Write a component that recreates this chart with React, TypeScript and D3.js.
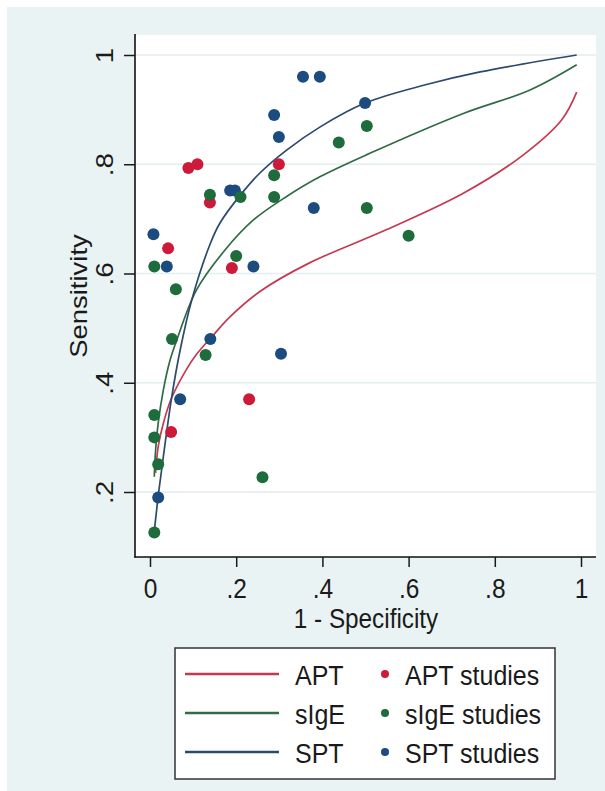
import React, { useEffect, useRef } from "react";
import { select, scaleLinear, axisLeft, axisBottom, line, curveCatmullRom } from "d3";

const W = 605;
const H = 791;
const FONT = "'Liberation Sans', Arial, sans-serif";
const STRETCH = 1.13; // original picture is stretched vertically

// axis ticks
const xTicks = [0, 0.2, 0.4, 0.6, 0.8, 1];
const yTicks = [0.2, 0.4, 0.6, 0.8, 1];

// fitted SROC curves: [1 - specificity, sensitivity]
const aptCurve = [
  [0.013, 0.235], [0.019, 0.283], [0.031, 0.326], [0.05, 0.372], [0.085, 0.425],
  [0.108, 0.452], [0.15, 0.49], [0.186, 0.521], [0.255, 0.567], [0.369, 0.619],
  [0.548, 0.68], [0.727, 0.747], [0.861, 0.814], [0.955, 0.881], [0.99, 0.932],
];
const sigeCurve = [
  [0.01, 0.228], [0.012, 0.265], [0.019, 0.326], [0.031, 0.387], [0.046, 0.44],
  [0.062, 0.478], [0.108, 0.57], [0.174, 0.643], [0.24, 0.698], [0.317, 0.741],
  [0.394, 0.777], [0.51, 0.82], [0.727, 0.893], [0.882, 0.936], [0.99, 0.982],
];
const sptCurve = [
  [0.01, 0.128], [0.019, 0.192], [0.031, 0.265], [0.05, 0.372], [0.07, 0.46],
  [0.097, 0.552], [0.14, 0.655], [0.162, 0.692], [0.209, 0.743], [0.255, 0.784],
  [0.317, 0.826], [0.394, 0.868], [0.499, 0.912], [0.637, 0.945], [0.766, 0.969],
  [0.99, 1.0],
];

// individual studies
const aptStudies = [
  [0.089, 0.793], [0.11, 0.8], [0.299, 0.8], [0.139, 0.73], [0.042, 0.646],
  [0.19, 0.61], [0.23, 0.37], [0.049, 0.31],
];
const sigeStudies = [
  [0.503, 0.87], [0.438, 0.84], [0.288, 0.78], [0.21, 0.74], [0.139, 0.744],
  [0.288, 0.74], [0.503, 0.72], [0.6, 0.669], [0.2, 0.632], [0.01, 0.613],
  [0.06, 0.571], [0.051, 0.48], [0.129, 0.451], [0.01, 0.341], [0.01, 0.3],
  [0.019, 0.251], [0.261, 0.227], [0.01, 0.126],
];
const sptStudies = [
  [0.355, 0.96], [0.394, 0.96], [0.499, 0.912], [0.288, 0.89], [0.299, 0.85],
  [0.186, 0.752], [0.197, 0.752], [0.38, 0.72], [0.008, 0.672], [0.039, 0.613],
  [0.24, 0.613], [0.14, 0.48], [0.304, 0.453], [0.07, 0.37], [0.019, 0.19],
];

const seriesNames = ["APT", "sIgE", "SPT"];
const lineColors = ["#c43a52", "#2f6b45", "#2b4a6d"];
const dotColors = ["#cd1a3a", "#1e6b3b", "#1b4b7f"];

const fmt = (d: number) => (d === 0 ? "0" : d === 1 ? "1" : String(d).replace("0.", "."));

const App = () => {
  const svgRef = useRef<SVGSVGElement>(null);

  useEffect(() => {
    const svg = select(svgRef.current);
    const x = scaleLinear().domain([0, 1]).range([150, 581]);
    const y = scaleLinear().domain([0, 1]).range([601.25, 55]);

    // gridlines
    svg
      .select(".grid")
      .selectAll("line")
      .data(yTicks)
      .join("line")
      .attr("x1", 135)
      .attr("x2", 596)
      .attr("y1", (d) => y(d))
      .attr("y2", (d) => y(d))
      .attr("stroke", "#e4edef")
      .attr("stroke-width", 1.5);

    // curves
    const curves = [aptCurve, sigeCurve, sptCurve];
    const gen = line<number[]>()
      .x((d) => x(d[0]))
      .y((d) => y(d[1]))
      .curve(curveCatmullRom.alpha(0.5));
    svg
      .select(".curves")
      .selectAll("path")
      .data(curves)
      .join("path")
      .attr("d", (d) => gen(d))
      .attr("fill", "none")
      .attr("stroke", (d, i) => lineColors[i])
      .attr("stroke-width", 1.7);

    // study points: red, blue, then green on top
    const layers = [
      { pts: aptStudies, color: dotColors[0] },
      { pts: sptStudies, color: dotColors[2] },
      { pts: sigeStudies, color: dotColors[1] },
    ];
    svg
      .select(".dots")
      .selectAll("g")
      .data(layers)
      .join("g")
      .attr("fill", (d) => d.color)
      .selectAll("circle")
      .data((d) => d.pts)
      .join("circle")
      .attr("cx", (d) => x(d[0]))
      .attr("cy", (d) => y(d[1]))
      .attr("r", 6);

    // axes
    const yAxis = axisLeft(y).tickValues(yTicks).tickSize(11).tickSizeOuter(0).tickFormat(fmt as any);
    const yg = svg.select(".y-axis").attr("transform", "translate(135,0)").call(yAxis as any);
    yg.select(".domain").remove();
    yg.selectAll(".tick line").attr("stroke-width", 1.5);
    yg.selectAll(".tick text")
      .attr("x", 0)
      .attr("dy", null)
      .attr("y", 0)
      .attr("text-anchor", "middle")
      .attr("font-size", 24.5)
      .attr("font-family", FONT)
      .attr("transform", `translate(-22,0) scale(1,${STRETCH}) rotate(-90)`);

    const xAxis = axisBottom(x).tickValues(xTicks).tickSize(10).tickSizeOuter(0).tickFormat(fmt as any);
    const xg = svg.select(".x-axis").attr("transform", "translate(0,557)").call(xAxis as any);
    xg.select(".domain").remove();
    xg.selectAll(".tick line").attr("stroke-width", 1.5);
    xg.selectAll(".tick text")
      .attr("y", 0)
      .attr("dy", null)
      .attr("font-size", 24.5)
      .attr("font-family", FONT)
      .attr("transform", `translate(0,41) scale(1,${STRETCH})`);
  }, []);

  const rowY = [674, 713, 752];

  return (
    <svg
      ref={svgRef}
      width={W}
      height={H}
      style={{ position: "absolute", left: 0, top: 0, color: "#1a1a1a" }}
      fontFamily={FONT}
    >
      <rect x={0} y={0} width={W} height={H} fill="#ffffff" />
      <rect x={7} y={7} width={W - 7} height={H - 7} fill="#eaf3f3" />
      <rect x={135} y={35} width={461} height={522} fill="#ffffff" />
      <g className="grid" />
      <g className="curves" />
      <g className="dots" />
      <line x1={135} x2={135} y1={34} y2={557.5} stroke="#111" strokeWidth={1.6} />
      <line x1={134.2} x2={596} y1={557} y2={557} stroke="#111" strokeWidth={1.6} />
      <g className="y-axis" />
      <g className="x-axis" />
      <text
        transform={`translate(86.5,296) scale(1,${STRETCH}) rotate(-90)`}
        textAnchor="middle"
        fontSize={24.3}
        fill="#1a1a1a"
      >
        Sensitivity
      </text>
      <text
        transform={`translate(366,628) scale(1,${STRETCH})`}
        textAnchor="middle"
        fontSize={24.3}
        fill="#1a1a1a"
      >
        1 - Specificity
      </text>
      <g className="legend">
        <rect x={175} y={648} width={380} height={131} fill="#ffffff" stroke="#333" strokeWidth={1.5} />
        {seriesNames.map((name, i) => (
          <g key={name}>
            <line x1={185} x2={279} y1={rowY[i]} y2={rowY[i]} stroke={lineColors[i]} strokeWidth={2.6} />
            <text
              transform={`translate(295,${rowY[i] + 11}) scale(1,${STRETCH})`}
              fontSize={25}
              fill="#1a1a1a"
            >
              {name}
            </text>
            <circle cx={385} cy={rowY[i]} r={4} fill={dotColors[i]} />
            <text
              transform={`translate(405,${rowY[i] + 11}) scale(1,${STRETCH})`}
              fontSize={25}
              fill="#1a1a1a"
            >
              {name + " studies"}
            </text>
          </g>
        ))}
      </g>
    </svg>
  );
};

export default App;
